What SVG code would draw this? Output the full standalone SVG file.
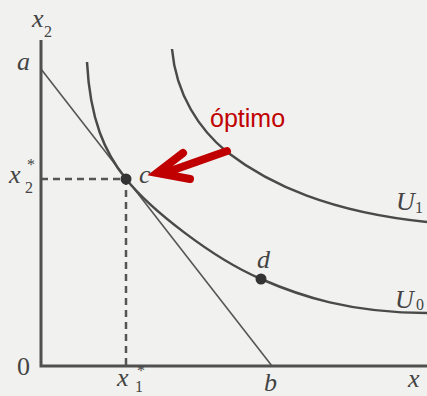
<svg xmlns="http://www.w3.org/2000/svg" width="427" height="396" viewBox="0 0 427 396">
<style>
.ax{stroke:#505050;stroke-width:3;fill:none}
.cv{stroke:#4a4a4a;stroke-width:2.5;fill:none}
.bl{stroke:#555;stroke-width:1.6;fill:none}
.da{stroke:#555;stroke-width:2.5;stroke-dasharray:7 5;fill:none}
.lb{font-family:"Liberation Serif",serif;font-style:italic;fill:#444;font-size:26px}
.sb{font-family:"Liberation Serif",serif;fill:#444;font-size:16px}
.red{stroke:#c00000;stroke-width:8;fill:none;stroke-linecap:round;stroke-linejoin:miter;stroke-miterlimit:6}
</style>
<rect width="427" height="396" fill="#f1f1ef"/>
<g id="connectors">
<path class="da" d="M41,179 H126 V366"/>
<path class="bl" d="M41,69 L272,366"/>
<path id="U0" class="cv" d="M87,62 C90,120 105,153 126,179 C150,209 212,258 261,279 C300,296 350,313 427,313"/>
<path id="U1" class="cv" d="M172,49 C176,95 200,130 227,152 C270,185 330,212 427,222"/>
<path class="ax" d="M41,40 V366 H427"/>
</g>
<g id="axis-labels">
<text class="lb" x="32" y="27">x</text><text class="sb" x="44" y="37">2</text>
<text class="lb" x="17" y="70">a</text>
<text class="lb" x="9" y="183">x</text><text class="sb" x="25" y="193">2</text><text class="sb" x="27" y="170">*</text>
<text font-family="Liberation Serif,serif" font-size="26" fill="#444" x="17" y="375">0</text>
<text class="lb" x="117" y="386">x</text><text class="sb" x="135" y="392" font-size="14">1</text><text class="sb" x="137" y="376">*</text>
<text class="lb" x="264" y="391">b</text>
<text class="lb" x="408" y="387">x</text>
</g>
<g id="node-c">
<circle cx="126" cy="179" r="5.5" fill="#333"/>
<text class="lb" x="139" y="183">c</text>
</g>
<g id="node-d">
<circle cx="261" cy="279" r="5.5" fill="#333"/>
<text class="lb" x="257" y="268">d</text>
</g>
<g id="label-U0">
<text class="lb" x="395" y="308">U</text><text class="sb" x="416" y="310">0</text>
</g>
<g id="label-U1">
<text class="lb" x="396" y="210">U</text><text class="sb" x="415" y="213">1</text>
</g>
<g id="optimo">
<text font-family="Liberation Sans,Arial,sans-serif" font-size="25" fill="#c00000" x="210" y="127">óptimo</text>
<path class="red" d="M227,151 L162,174 M183,153 L157,173 L190,179"/>
</g>
</svg>
